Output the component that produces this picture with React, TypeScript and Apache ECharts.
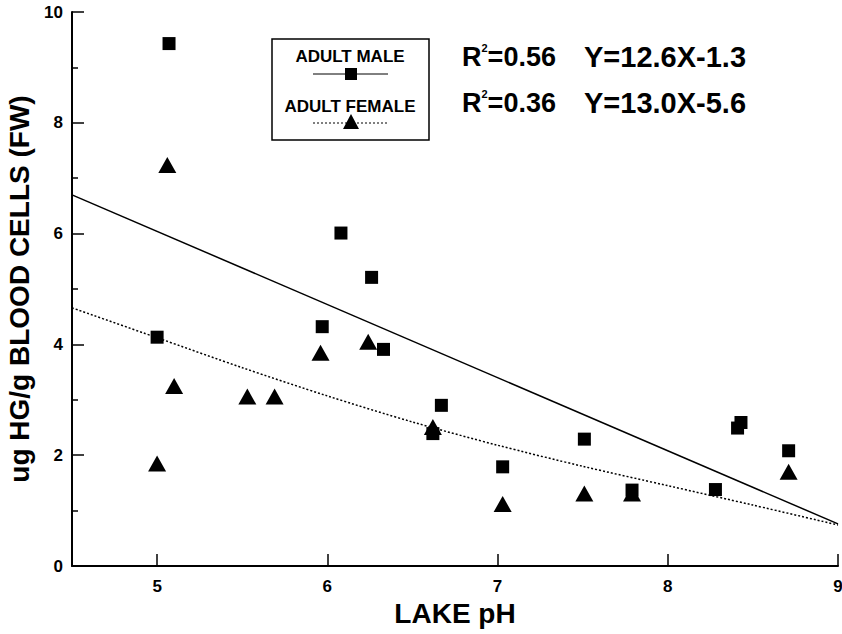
import React, { useEffect, useRef } from 'react';
import * as echarts from 'echarts';

// Adult male: lake pH vs ug Hg/g blood cells (FW)
const malePH = [5.07, 5.0, 6.08, 6.26, 5.97, 6.33, 6.67, 6.62, 7.03, 7.51, 7.79, 8.28, 8.41, 8.43, 8.71];
const maleHg = [9.43, 4.13, 6.01, 5.21, 4.32, 3.91, 2.9, 2.39, 1.79, 2.29, 1.37, 1.38, 2.49, 2.59, 2.08];

// Adult female
const femalePH = [5.06, 5.0, 5.1, 5.53, 5.69, 5.96, 6.24, 6.62, 7.03, 7.51, 7.79, 8.71];
const femaleHg = [7.24, 1.85, 3.25, 3.06, 3.06, 3.85, 4.05, 2.51, 1.12, 1.31, 1.31, 1.7];

// Regression curves
const maleFitPH = [4.5, 9.0];
const maleFitHg = [6.7, 0.76];
const femaleFitPH = [4.5, 5.0, 5.5, 6.0, 6.5, 7.0, 7.5, 8.0, 8.5, 9.0];
const femaleFitHg = [4.66, 4.12, 3.58, 3.07, 2.6, 2.18, 1.8, 1.45, 1.1, 0.74];

const legendLabels = ['ADULT MALE', 'ADULT FEMALE'];
const r2Values = ['0.56', '0.36'];
const equationTexts = ['Y=12.6X-1.3', 'Y=13.0X-5.6'];

const xName = 'LAKE pH';
const yName = 'ug HG/g BLOOD CELLS (FW)';

const FONT = '"Liberation Sans", Arial, Helvetica, sans-serif';

const zip = (a: number[], b: number[]) => a.map((v, i) => [v, b[i]]);

export default function App() {
  const ref = useRef<HTMLDivElement>(null);
  useEffect(() => {
    if (!ref.current) return;
    const chart = echarts.init(ref.current, null, { renderer: 'svg' });
    const eqGraphics: any[] = [];
    r2Values.forEach((r2, i) => {
      const y = 57 + i * 46;
      eqGraphics.push({
        type: 'text',
        x: 462,
        y,
        z: 11,
        style: {
          text: `{b|R}{s|2}{b|=${r2}}`,
          verticalAlign: 'middle',
          align: 'left',
          rich: {
            b: { fontSize: 27, fontWeight: 'bold', fontFamily: FONT, fill: '#000', lineHeight: 30 },
            s: { fontSize: 11, fontWeight: 'bold', fontFamily: FONT, fill: '#000', lineHeight: 12, verticalAlign: 'top' },
          },
        },
      });
      eqGraphics.push({
        type: 'text',
        x: 584,
        y,
        z: 11,
        style: {
          text: equationTexts[i],
          fontSize: 29,
          fontWeight: 'bold',
          fontFamily: FONT,
          fill: '#000',
          verticalAlign: 'middle',
          align: 'left',
        },
      });
    });
    chart.setOption({
      animation: false,
      backgroundColor: '#fff',
      grid: { left: 72, right: 4, top: 12, bottom: 68, containLabel: false, outerBoundsMode: 'none' },
      xAxis: {
        type: 'value',
        min: 4.5,
        max: 9,
        splitNumber: 4,
        name: xName,
        nameLocation: 'middle',
        nameGap: 32,
        nameTextStyle: { fontSize: 28, fontWeight: 'bold', fontFamily: FONT, color: '#000' },
        axisLine: { show: true, onZero: false, lineStyle: { color: '#000', width: 2 } },
        axisTick: { show: true, inside: true, length: 12, lineStyle: { color: '#000', width: 1.5 } },
        axisLabel: {
          color: '#000',
          fontSize: 17,
          fontWeight: 'bold',
          fontFamily: FONT,
          margin: 12,
          formatter: (v: number) => (Number.isInteger(v) ? String(v) : ''),
        },
        splitLine: { show: false },
      },
      yAxis: {
        type: 'value',
        min: 0,
        max: 10,
        interval: 2,
        name: yName,
        nameLocation: 'middle',
        nameGap: 32,
        nameTextStyle: { fontSize: 28, fontWeight: 'bold', fontFamily: FONT, color: '#000' },
        axisLine: { show: true, onZero: false, lineStyle: { color: '#000', width: 2 } },
        axisTick: { show: true, inside: true, length: 12, lineStyle: { color: '#000', width: 1.5 } },
        minorTick: { show: true, splitNumber: 2, length: 6, lineStyle: { color: '#000', width: 1.5 } },
        axisLabel: { color: '#000', fontSize: 17, fontWeight: 'bold', fontFamily: FONT, margin: 9 },
        splitLine: { show: false },
      },
      series: [
        {
          type: 'line',
          data: zip(maleFitPH, maleFitHg),
          symbol: 'none',
          lineStyle: { color: '#000', width: 1.5, type: 'solid' },
          z: 1,
        },
        {
          type: 'line',
          data: zip(femaleFitPH, femaleFitHg),
          symbol: 'none',
          smooth: 0.3,
          lineStyle: { color: '#000', width: 1.5, type: [2, 2] },
          z: 1,
        },
        {
          type: 'scatter',
          data: zip(malePH, maleHg),
          symbol: 'rect',
          symbolSize: 13,
          itemStyle: { color: '#000', opacity: 1 },
          z: 3,
        },
        {
          type: 'scatter',
          data: zip(femalePH, femaleHg),
          symbol: 'triangle',
          symbolSize: [18, 16],
          itemStyle: { color: '#000', opacity: 1 },
          z: 3,
        },
      ],
      graphic: [
        {
          type: 'rect',
          shape: { x: 272, y: 39, width: 157, height: 101 },
          style: { fill: '#fff', stroke: '#000', lineWidth: 1.5 },
          z: 10,
        },
        {
          type: 'text',
          x: 350,
          y: 56,
          z: 11,
          style: { text: legendLabels[0], fontSize: 17, fontWeight: 'bold', fontFamily: FONT, fill: '#000', align: 'center', verticalAlign: 'middle' },
        },
        {
          type: 'line',
          shape: { x1: 313, y1: 74, x2: 388, y2: 74 },
          style: { stroke: '#000', lineWidth: 1 },
          z: 11,
        },
        {
          type: 'rect',
          shape: { x: 345, y: 68, width: 12, height: 12 },
          style: { fill: '#000' },
          z: 12,
        },
        {
          type: 'text',
          x: 350,
          y: 106,
          z: 11,
          style: { text: legendLabels[1], fontSize: 17, fontWeight: 'bold', fontFamily: FONT, fill: '#000', align: 'center', verticalAlign: 'middle' },
        },
        {
          type: 'line',
          shape: { x1: 313, y1: 123, x2: 388, y2: 123 },
          style: { stroke: '#000', lineWidth: 1, lineDash: [2, 2] },
          z: 11,
        },
        {
          type: 'polygon',
          shape: { points: [[351, 114], [343, 129], [359, 129]] },
          style: { fill: '#000' },
          z: 12,
        },
        ...eqGraphics,
      ],
    });
    return () => chart.dispose();
  }, []);
  return (
    <div
      ref={ref}
      style={{ position: 'absolute', left: 0, top: 0, width: 842, height: 634, background: '#fff' }}
    />
  );
}
